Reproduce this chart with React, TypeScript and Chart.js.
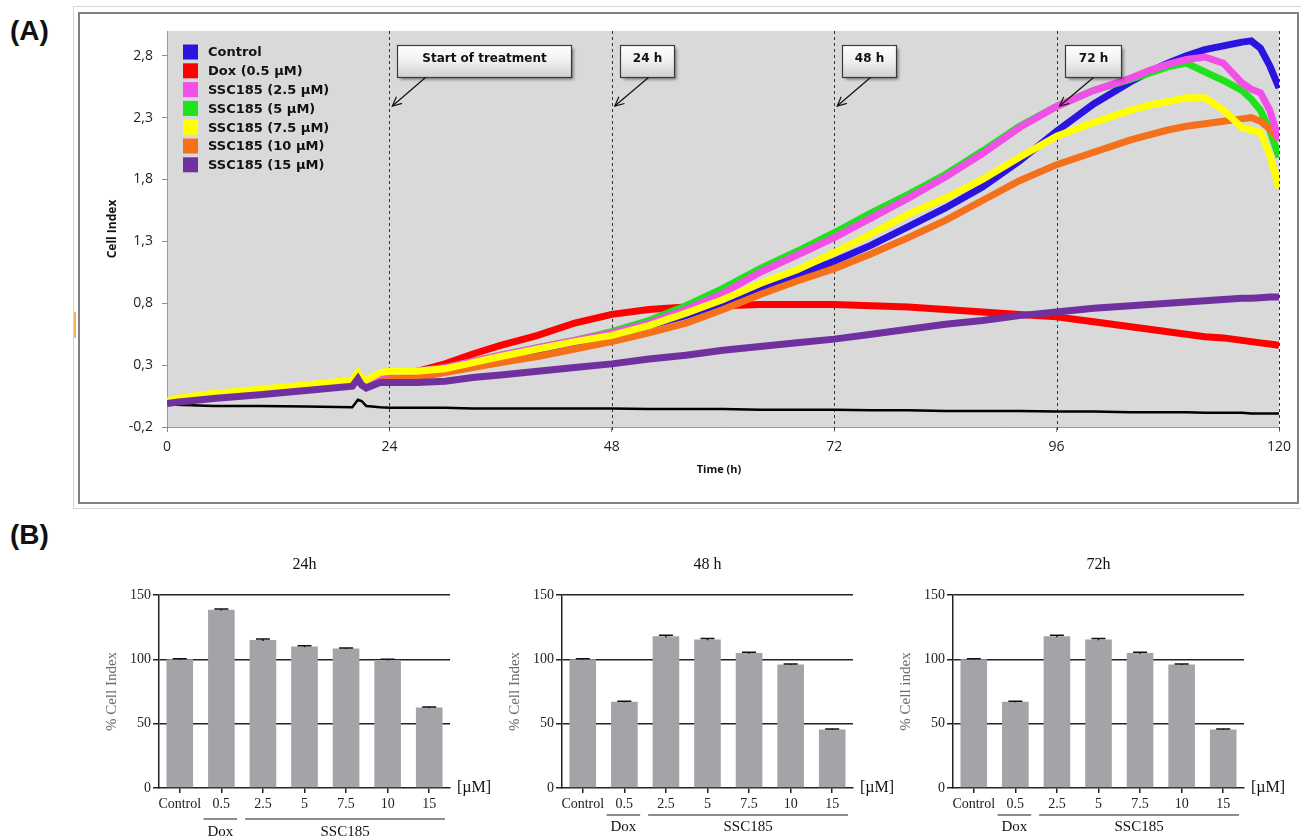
import React, { useEffect, useRef } from 'react';
import { Chart, registerables } from 'chart.js';

Chart.register(...registerables);

// ---------------- (A) real-time Cell Index ----------------
const timeH = [0, 1, 5, 10, 15, 20, 20.6, 21, 21.5, 23, 24, 27, 30, 33, 36, 40, 44, 48, 52, 56, 60, 64, 68, 72, 76, 80, 84, 88, 92, 96, 100, 104, 106, 108, 110, 112, 114, 116, 117, 118, 119, 120];

const controlCI = [0.0, 0.02, 0.05, 0.09, 0.13, 0.16, 0.21, 0.17, 0.15, 0.20, 0.22, 0.22, 0.25, 0.30, 0.35, 0.41, 0.47, 0.54, 0.62, 0.70, 0.80, 0.91, 1.02, 1.14, 1.27, 1.42, 1.57, 1.74, 1.95, 2.19, 2.41, 2.59, 2.67, 2.74, 2.80, 2.85, 2.88, 2.91, 2.92, 2.86, 2.72, 2.54];
const dox05CI = [0.0, 0.02, 0.05, 0.09, 0.13, 0.17, 0.22, 0.17, 0.16, 0.21, 0.22, 0.25, 0.31, 0.39, 0.46, 0.54, 0.64, 0.71, 0.75, 0.77, 0.78, 0.79, 0.79, 0.79, 0.78, 0.77, 0.75, 0.73, 0.71, 0.69, 0.65, 0.61, 0.59, 0.57, 0.55, 0.53, 0.52, 0.50, 0.49, 0.48, 0.47, 0.46];
const ssc25CI = [0.0, 0.02, 0.06, 0.10, 0.13, 0.17, 0.22, 0.17, 0.16, 0.22, 0.24, 0.25, 0.28, 0.33, 0.38, 0.44, 0.50, 0.56, 0.64, 0.75, 0.88, 1.05, 1.19, 1.33, 1.49, 1.65, 1.82, 2.01, 2.22, 2.39, 2.52, 2.62, 2.68, 2.73, 2.77, 2.79, 2.74, 2.58, 2.53, 2.50, 2.36, 2.12];
const ssc5CI = [0.0, 0.02, 0.06, 0.10, 0.13, 0.17, 0.22, 0.17, 0.16, 0.22, 0.24, 0.25, 0.28, 0.33, 0.38, 0.44, 0.50, 0.57, 0.66, 0.78, 0.92, 1.08, 1.22, 1.37, 1.53, 1.68, 1.84, 2.03, 2.23, 2.39, 2.52, 2.61, 2.66, 2.71, 2.74, 2.67, 2.60, 2.52, 2.45, 2.36, 2.20, 1.98];
const ssc75CI = [0.01, 0.03, 0.07, 0.105, 0.14, 0.18, 0.24, 0.19, 0.18, 0.24, 0.25, 0.25, 0.27, 0.32, 0.37, 0.43, 0.49, 0.54, 0.62, 0.72, 0.83, 0.96, 1.07, 1.21, 1.36, 1.52, 1.65, 1.80, 1.98, 2.15, 2.26, 2.36, 2.40, 2.43, 2.46, 2.46, 2.36, 2.22, 2.20, 2.18, 2.00, 1.73];
const ssc10CI = [0.0, 0.02, 0.05, 0.085, 0.12, 0.16, 0.22, 0.17, 0.15, 0.21, 0.21, 0.20, 0.24, 0.28, 0.32, 0.37, 0.43, 0.49, 0.56, 0.64, 0.75, 0.87, 0.98, 1.08, 1.20, 1.33, 1.47, 1.63, 1.79, 1.92, 2.02, 2.12, 2.16, 2.20, 2.23, 2.25, 2.27, 2.29, 2.30, 2.27, 2.21, 2.12];
const ssc15CI = [-0.01, 0.0, 0.03, 0.06, 0.095, 0.13, 0.19, 0.14, 0.115, 0.16, 0.16, 0.16, 0.17, 0.20, 0.22, 0.25, 0.28, 0.31, 0.35, 0.38, 0.42, 0.45, 0.48, 0.51, 0.55, 0.59, 0.63, 0.66, 0.70, 0.73, 0.76, 0.78, 0.79, 0.80, 0.81, 0.82, 0.83, 0.84, 0.84, 0.845, 0.85, 0.85];
const blankCI = [0.0, -0.02, -0.03, -0.03, -0.035, -0.04, 0.02, 0.01, -0.03, -0.04, -0.045, -0.045, -0.045, -0.05, -0.05, -0.05, -0.05, -0.05, -0.055, -0.055, -0.055, -0.06, -0.06, -0.06, -0.065, -0.065, -0.07, -0.07, -0.07, -0.075, -0.075, -0.08, -0.08, -0.08, -0.08, -0.085, -0.085, -0.085, -0.09, -0.09, -0.09, -0.09];

const seriesNames = ['Control', 'Dox (0.5 µM)', 'SSC185 (2.5 µM)', 'SSC185 (5 µM)', 'SSC185 (7.5 µM)', 'SSC185 (10 µM)', 'SSC185 (15 µM)'];
const seriesValues = [controlCI, dox05CI, ssc25CI, ssc5CI, ssc75CI, ssc10CI, ssc15CI];
const seriesColors = ['#2b14e0', '#ff0000', '#f24ee8', '#1ee21e', '#ffff00', '#f5701a', '#7030a0'];
const seriesDrawOrder = [6, 7, 3, 5, 2, 4, 1];

const yTicksA = [-0.2, 0.3, 0.8, 1.3, 1.8, 2.3, 2.8];
const xTicksA = [0, 24, 48, 72, 96, 120];
const markerTimes = [24, 48, 72, 96, 120];
const calloutTexts = ['Start of treatment', '24 h', '48 h', '72 h'];
const calloutTimes = [24, 48, 72, 96];

// ---------------- (B) % Cell Index bars ----------------
const concLabels = ['Control', '0.5', '2.5', '5', '7.5', '10', '15'];
const pctCI24h = [100, 138.5, 115, 110, 108.5, 99.5, 62.5];
const semCI24h = [0.4, 0.6, 0.8, 0.6, 0.4, 0.5, 0.4];
const pctCI48h = [100, 67, 118, 115.5, 105, 96, 45.5];
const semCI48h = [0.4, 0.4, 0.8, 0.6, 0.6, 0.4, 0.4];
const pctCI72h = [100, 67, 118, 115.5, 105, 96, 45.5];
const semCI72h = [0.4, 0.4, 0.8, 0.6, 0.6, 0.4, 0.4];
const groupNames = ['Dox', 'SSC185'];
const groupFrom = [1, 2];
const groupTo = [1, 6];
const panelTitles = ['24h', '48 h', '72h'];
const panelYTitles = ['% Cell Index', '% Cell Index', '% Cell index'];

const fmtComma = (v: number) => Number(v).toFixed(1).replace('.', ',');

const panelADecor = {
  id: 'panelADecor',
  beforeDraw(chart: any) {
    const { ctx, chartArea: a } = chart;
    ctx.save();
    ctx.fillStyle = '#d9d9d9';
    ctx.fillRect(a.left, a.top, a.right - a.left, a.bottom - a.top);
    ctx.restore();
  },
  beforeDatasetsDraw(chart: any) {
    const { ctx, chartArea: a, scales } = chart;
    const x = scales.x;
    ctx.save();
    ctx.strokeStyle = '#333';
    ctx.lineWidth = 1;
    ctx.setLineDash([3, 3]);
    markerTimes.forEach((t) => {
      const px = Math.round(x.getPixelForValue(t)) + 0.5;
      ctx.beginPath();
      ctx.moveTo(px, a.top);
      ctx.lineTo(px, a.bottom + 4);
      ctx.stroke();
    });
    ctx.restore();
  },
  afterDatasetsDraw(chart: any) {
    const { ctx, chartArea: a, scales } = chart;
    const x = scales.x;
    const boxW = [174, 54, 54, 56];
    calloutTexts.forEach((txt, i) => {
      const px = x.getPixelForValue(calloutTimes[i]);
      const bx = Math.round(px + 8) + 0.5;
      const by = a.top + 14.5;
      const bw = boxW[i];
      const bh = 32;
      ctx.save();
      ctx.shadowColor = 'rgba(0,0,0,0.45)';
      ctx.shadowOffsetX = 2;
      ctx.shadowOffsetY = 2;
      ctx.shadowBlur = 3;
      const g = ctx.createLinearGradient(0, by, 0, by + bh);
      g.addColorStop(0, '#ffffff');
      g.addColorStop(0.5, '#f0f0f0');
      g.addColorStop(1, '#cfcfcf');
      ctx.fillStyle = g;
      ctx.fillRect(bx, by, bw, bh);
      ctx.restore();
      ctx.save();
      ctx.strokeStyle = '#3a3a3a';
      ctx.lineWidth = 1.2;
      ctx.strokeRect(bx, by, bw, bh);
      ctx.fillStyle = '#111';
      ctx.font = 'bold 12px "DejaVu Sans"';
      ctx.textAlign = 'center';
      ctx.textBaseline = 'middle';
      ctx.fillText(txt, bx + bw / 2, by + 13);
      const sx = bx + 28, sy = by + bh;
      const ex = px + 3, ey = a.top + 75;
      ctx.strokeStyle = '#111';
      ctx.lineWidth = 1.2;
      ctx.beginPath();
      ctx.moveTo(sx, sy);
      ctx.lineTo(ex, ey);
      ctx.stroke();
      const ang = Math.atan2(ey - sy, ex - sx);
      const hl = 10;
      ctx.beginPath();
      ctx.moveTo(ex - hl * Math.cos(ang - 0.45), ey - hl * Math.sin(ang - 0.45));
      ctx.lineTo(ex, ey);
      ctx.lineTo(ex - hl * Math.cos(ang + 0.45), ey - hl * Math.sin(ang + 0.45));
      ctx.stroke();
      ctx.restore();
    });
    ctx.save();
    ctx.font = 'bold 13px "DejaVu Sans"';
    ctx.textBaseline = 'middle';
    ctx.textAlign = 'left';
    seriesNames.forEach((n, i) => {
      const ry = a.top + 21.5 + i * 18.8;
      ctx.fillStyle = seriesColors[i];
      ctx.fillRect(a.left + 16, ry - 8, 15, 15);
      ctx.fillStyle = '#111';
      ctx.fillText(n, a.left + 41, ry + 0.5);
    });
    ctx.restore();
  },
  afterDraw(chart: any) {
    const { ctx, chartArea: a } = chart;
    ctx.save();
    ctx.fillStyle = '#111';
    ctx.font = 'bold 11px "Open Sans"';
    ctx.textAlign = 'center';
    ctx.textBaseline = 'middle';
    ctx.fillText('Time (h)', (a.left + a.right) / 2 - 4, a.bottom + 43);
    ctx.translate(a.left - 54, (a.top + a.bottom) / 2);
    ctx.rotate(-Math.PI / 2);
    ctx.font = 'bold 12px "Open Sans"';
    ctx.fillText('Cell Index', 0, 0);
    ctx.restore();
  },
};

const barDecor = {
  id: 'barDecor',
  afterDatasetsDraw(chart: any, _args: any, opts: any) {
    const { ctx, scales } = chart;
    const x = scales.x, y = scales.y;
    const vals = chart.data.datasets[0].data;
    ctx.save();
    ctx.strokeStyle = '#111';
    ctx.lineWidth = 1.5;
    vals.forEach((v: number, i: number) => {
      const e = opts.errs[i];
      const cx = x.getPixelForValue(i);
      const yt = y.getPixelForValue(v + e);
      const yb = y.getPixelForValue(v - e);
      ctx.beginPath();
      ctx.moveTo(cx, yb);
      ctx.lineTo(cx, yt);
      ctx.moveTo(cx - 7, yt);
      ctx.lineTo(cx + 7, yt);
      ctx.stroke();
    });
    ctx.restore();
  },
  afterDraw(chart: any, _args: any, opts: any) {
    const { ctx, chartArea: a, scales } = chart;
    const x = scales.x;
    ctx.save();
    ctx.fillStyle = '#111';
    ctx.textAlign = 'center';
    ctx.textBaseline = 'middle';
    ctx.font = '16px "Liberation Serif"';
    ctx.fillText(opts.title, (a.left + a.right) / 2, a.top - 30);
    ctx.textAlign = 'left';
    ctx.font = '16px "Liberation Serif"';
    ctx.fillText('[µM]', a.right + 7, a.bottom);
    const half = (x.getPixelForValue(1) - x.getPixelForValue(0)) / 2;
    groupNames.forEach((g, i) => {
      const x1 = x.getPixelForValue(groupFrom[i]) - half + 3;
      const x2 = x.getPixelForValue(groupTo[i]) + half - 5;
      ctx.strokeStyle = '#666';
      ctx.lineWidth = 1.5;
      ctx.beginPath();
      ctx.moveTo(x1, a.bottom + opts.lineDy);
      ctx.lineTo(x2, a.bottom + opts.lineDy);
      ctx.stroke();
      ctx.fillStyle = '#111';
      ctx.textAlign = 'center';
      ctx.font = '15px "Liberation Serif"';
      ctx.fillText(g, (x1 + x2) / 2, a.bottom + opts.labelDy);
    });
    ctx.translate(a.left - 47, (a.top + a.bottom) / 2);
    ctx.rotate(-Math.PI / 2);
    ctx.fillStyle = '#6e6e6e';
    ctx.font = '15px "Liberation Serif"';
    ctx.textAlign = 'center';
    ctx.fillText(opts.yTitle, 0, 0);
    ctx.restore();
  },
};

function makeBarChart(canvas: HTMLCanvasElement, values: number[], errs: number[], title: string, yTitle: string, lineDy: number, labelDy: number) {
  const serif = { family: '"Liberation Serif"', size: 14 };
  return new Chart(canvas, {
    type: 'bar',
    data: {
      labels: concLabels,
      datasets: [{ data: values, backgroundColor: '#a3a3a8', borderWidth: 0, barPercentage: 0.64, categoryPercentage: 1 }],
    },
    options: {
      animation: false,
      responsive: false,
      maintainAspectRatio: false,
      layout: { padding: { top: 50, right: 45, left: 0, bottom: 0 } },
      plugins: {
        legend: { display: false },
        tooltip: { enabled: false },
        barDecor: { title, yTitle, errs, lineDy, labelDy },
      } as any,
      scales: {
        x: {
          ticks: { font: serif, color: '#222', padding: 3, autoSkip: false, maxRotation: 0, minRotation: 0 },
          grid: { offset: false, drawOnChartArea: false, tickLength: 5, color: '#222', lineWidth: 1.5 },
          border: { color: '#222', width: 1.5 },
          afterFit: (s: any) => { s.height = 48; },
        },
        y: {
          min: 0,
          max: 150,
          ticks: { stepSize: 50, font: serif, color: '#222', padding: 2 },
          grid: {
            color: (c: any) => (c.tick && c.tick.value === 0 ? 'rgba(0,0,0,0)' : '#222'),
            tickColor: '#222',
            lineWidth: 1.5,
            tickLength: 6,
          },
          border: { color: '#222', width: 1.5 },
          afterFit: (s: any) => { s.width = 69; },
        },
      } as any,
    },
    plugins: [barDecor],
  } as any);
}

export default function App() {
  const topRef = useRef<HTMLCanvasElement>(null);
  const b1Ref = useRef<HTMLCanvasElement>(null);
  const b2Ref = useRef<HTMLCanvasElement>(null);
  const b3Ref = useRef<HTMLCanvasElement>(null);

  useEffect(() => {
    const datasets: any[] = seriesNames.map((name, i) => ({
      label: name,
      data: timeH.map((t, k) => ({ x: t, y: seriesValues[i][k] })),
      borderColor: seriesColors[i],
      backgroundColor: seriesColors[i],
      borderWidth: 7,
      pointRadius: 0,
      fill: false,
      tension: 0,
      order: seriesDrawOrder[i],
    }));
    datasets.push({
      label: 'Medium',
      data: timeH.map((t, k) => ({ x: t, y: blankCI[k] })),
      borderColor: '#000',
      borderWidth: 2.5,
      pointRadius: 0,
      fill: false,
      tension: 0,
      order: 8,
    });
    const sans = { family: '"Open Sans"', size: 14 };
    const top = new Chart(topRef.current as HTMLCanvasElement, {
      type: 'line',
      data: { datasets },
      options: {
        animation: false,
        responsive: false,
        maintainAspectRatio: false,
        layout: { padding: { top: 19, right: 20, left: 0, bottom: 0 } },
        plugins: { legend: { display: false }, tooltip: { enabled: false } },
        scales: {
          x: {
            type: 'linear',
            min: 0,
            max: 120,
            afterBuildTicks: (s: any) => { s.ticks = xTicksA.map((v) => ({ value: v })); },
            ticks: { font: sans, color: '#222', padding: 7, maxRotation: 0 },
            grid: { drawOnChartArea: false, tickLength: 5, color: '#8a8a8a' },
            border: { color: '#9a9a9a' },
            afterFit: (s: any) => { s.height = 76; },
          },
          y: {
            type: 'linear',
            min: -0.2,
            max: 3.0,
            afterBuildTicks: (s: any) => { s.ticks = yTicksA.map((v) => ({ value: v })); },
            ticks: { font: sans, color: '#222', padding: 9, callback: (v: any) => fmtComma(v) },
            grid: { drawOnChartArea: false, tickLength: 5, color: '#8a8a8a' },
            border: { color: '#9a9a9a' },
            afterFit: (s: any) => { s.width = 89; },
          },
        } as any,
      },
      plugins: [panelADecor],
    } as any);

    const c1 = makeBarChart(b1Ref.current as HTMLCanvasElement, pctCI24h, semCI24h, panelTitles[0], panelYTitles[0], 31, 44);
    const c2 = makeBarChart(b2Ref.current as HTMLCanvasElement, pctCI48h, semCI48h, panelTitles[1], panelYTitles[1], 27, 39);
    const c3 = makeBarChart(b3Ref.current as HTMLCanvasElement, pctCI72h, semCI72h, panelTitles[2], panelYTitles[2], 27, 39);

    return () => {
      top.destroy();
      c1.destroy();
      c2.destroy();
      c3.destroy();
    };
  }, []);

  const abs = (left: number, top: number, width: number, height: number): React.CSSProperties => ({
    position: 'absolute', left, top, width, height,
  });

  return (
    <div style={{ position: 'absolute', left: 0, top: 0, width: 1301, height: 836, overflow: 'hidden', background: '#fff' }}>
      <div style={{ ...abs(73, 6, 1240, 503), border: '1px solid #d6d6d6', boxSizing: 'border-box' }} />
      <div style={{ ...abs(78, 12, 1221, 492), border: '2px solid #808080', boxSizing: 'border-box', background: '#fff' }} />
      <div style={{ ...abs(74, 312, 2, 26), background: '#f3b060' }} />
      <div style={{ ...abs(10, 14, 60, 34), font: 'bold 28px "Liberation Sans"', lineHeight: '34px', color: '#111' }}>(A)</div>
      <div style={{ ...abs(10, 518, 60, 34), font: 'bold 28px "Liberation Sans"', lineHeight: '34px', color: '#111' }}>(B)</div>
      <canvas ref={topRef} width={1221} height={491} style={abs(78, 12, 1221, 491)} />
      <canvas ref={b1Ref} width={405} height={291} style={abs(90, 545, 405, 291)} />
      <canvas ref={b2Ref} width={405} height={291} style={abs(493, 545, 405, 291)} />
      <canvas ref={b3Ref} width={405} height={291} style={abs(884, 545, 405, 291)} />
    </div>
  );
}
